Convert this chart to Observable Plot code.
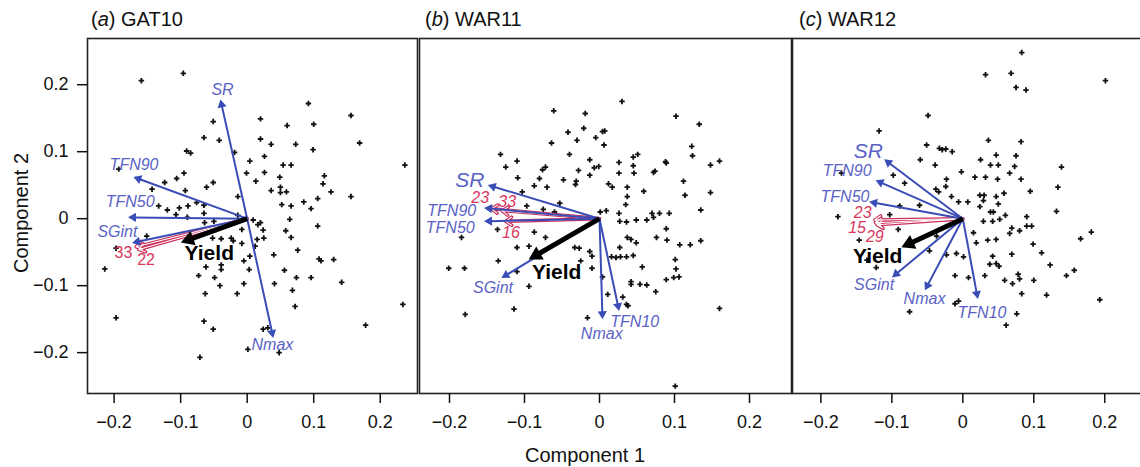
<!DOCTYPE html>
<html><head><meta charset="utf-8">
<script src="https://cdn.jsdelivr.net/npm/d3@7"></script>
<script src="https://cdn.jsdelivr.net/npm/@observablehq/plot@0.6"></script>
<style>
body{margin:0;background:#fff;}
#wrap{position:relative;width:1140px;height:467px;overflow:hidden;font-family:"Liberation Sans",Arial,Helvetica,sans-serif;color:#111;}
.panel{position:absolute;top:0;}
.title{position:absolute;top:7px;font-size:20px;line-height:24px;white-space:nowrap;}
.xlab{position:absolute;left:485px;top:443px;width:200px;text-align:center;font-size:20px;line-height:24px;}
.ylab{position:absolute;left:-79px;top:201px;width:200px;height:24px;text-align:center;font-size:20px;line-height:24px;transform:rotate(-90deg);}
</style></head>
<body>
<div id="wrap"></div>
<script>
// ---------- data ----------
const titles = ["GAT10", "WAR11", "WAR12"];
const letters = ["a", "b", "c"];
const xTicks = [-0.2, -0.1, 0, 0.1, 0.2];
const yTicks = [-0.2, -0.1, 0, 0.1, 0.2];
const xDomain = [-0.24, 0.256];
const yDomain = [-0.261, 0.269];

// genotype scores (Component 1, Component 2)
const ptsA = [[-0.159,0.206],[-0.096,0.217],[0.092,0.172],[0.156,0.154],[-0.051,0.145],[0.020,0.149],[0.060,0.139],[0.100,0.141],[-0.065,0.121],[-0.042,0.117],[0.020,0.119],[0.036,0.111],[0.073,0.111],[0.099,0.103],[0.169,0.113],[-0.091,0.101],[-0.085,0.098],[-0.019,0.099],[0.026,0.093],[0.004,0.086],[0.054,0.080],[0.066,0.080],[0.237,0.080],[-0.193,0.074],[-0.095,0.068],[-0.001,0.068],[0.026,0.069],[0.116,0.064],[0.049,0.062],[-0.106,0.060],[-0.124,0.054],[-0.051,0.054],[0.013,0.056],[0.114,0.052],[0.050,0.047],[-0.061,0.047],[-0.143,0.044],[-0.093,0.042],[0.036,0.042],[0.059,0.040],[0.050,0.039],[0.126,0.040],[-0.014,0.033],[0.156,0.033],[0.106,0.030],[-0.076,0.024],[-0.133,0.019],[-0.120,0.013],[-0.102,0.016],[-0.089,0.019],[-0.065,0.020],[0.052,0.021],[0.066,0.019],[0.085,0.025],[0.096,0.015],[-0.107,0.006],[-0.065,0.008],[-0.014,0.005],
[-0.090,0.002],[-0.064,-0.006],[-0.050,-0.004],[0.009,-0.002],[0.016,-0.009],[0.020,-0.006],[0.024,-0.017],[-0.008,-0.016],[0.064,-0.001],[0.106,-0.011],[0.058,-0.018],[0.066,-0.028],[0.025,-0.029],[0.015,-0.031],[-0.052,-0.029],[-0.039,-0.030],[-0.024,-0.029],[-0.021,-0.033],[-0.008,-0.037],[-0.151,-0.026],[0.012,-0.041],[0.076,-0.047],[-0.197,-0.044],[0.040,-0.054],[0.004,-0.056],[0.108,-0.060],[0.111,-0.063],[0.130,-0.061],[-0.005,-0.063],[-0.039,-0.069],[-0.039,-0.076],[-0.062,-0.072],[0.003,-0.076],[0.056,-0.077],[-0.214,-0.075],[-0.073,-0.085],[-0.049,-0.088],[0.074,-0.088],[0.096,-0.088],[0.142,-0.095],[-0.005,-0.097],[-0.041,-0.100],[0.041,-0.097],[0.068,-0.107],[-0.063,-0.112],[-0.015,-0.112],[0.072,-0.131],[0.234,-0.128],[-0.197,-0.148],[-0.065,-0.153],[0.178,-0.159],[-0.051,-0.165],[0.024,-0.165],[0.031,-0.163],[0.001,-0.195],[0.048,-0.200],[-0.071,-0.207]];

const ptsB = [[0.030,0.175],[-0.061,0.161],[-0.019,0.157],[0.102,0.153],[0.133,0.141],[-0.021,0.135],[-0.042,0.129],[0.004,0.130],[0.007,0.131],[-0.030,0.117],[-0.005,0.121],[-0.064,0.113],[0.006,0.110],[0.123,0.108],[0.124,0.094],[-0.132,0.096],[-0.040,0.096],[0.051,0.096],[0.045,0.092],[-0.013,0.088],[-0.110,0.086],[-0.125,0.077],[-0.072,0.077],[-0.076,0.073],[-0.007,0.076],[-0.001,0.078],[0.026,0.084],[0.045,0.079],[0.088,0.085],[0.089,0.083],[0.148,0.080],[0.160,0.086],[-0.028,0.072],[0.026,0.068],[0.046,0.068],[0.074,0.071],[0.072,0.069],[-0.013,0.065],[-0.109,0.061],[-0.080,0.060],[-0.048,0.058],[-0.031,0.056],[-0.032,0.051],[0.012,0.052],[0.017,0.047],[-0.087,0.049],[-0.070,0.047],[0.037,0.047],[0.112,0.056],[0.059,0.041],[0.114,0.035],[0.148,0.039],[0.037,0.033],[-0.103,0.040],[0.035,0.021],[-0.053,0.023],[0.135,0.013],[-0.097,0.019],[-0.075,0.014],[-0.060,0.010],[0.009,0.012],[0.026,0.008],[0.070,0.008],[0.080,0.008],[0.093,0.008],[0.001,0.010],
[0.027,-0.004],[0.036,-0.005],[0.049,-0.002],[0.063,-0.002],[0.072,0.002],[0.089,-0.015],[0.076,-0.028],[0.090,-0.032],[0.037,-0.028],[0.042,-0.031],[0.049,-0.036],[0.027,-0.043],[0.016,-0.057],[0.022,-0.058],[0.028,-0.057],[0.036,-0.057],[0.045,-0.055],[-0.010,-0.056],[-0.033,-0.043],[-0.027,-0.044],[-0.025,-0.063],[-0.013,-0.049],[-0.072,-0.028],[-0.087,-0.020],[-0.094,-0.041],[-0.110,-0.043],[-0.136,-0.016],[-0.184,-0.028],[-0.201,-0.074],[-0.180,-0.074],[-0.135,-0.063],[-0.110,-0.079],[-0.094,-0.101],[-0.010,-0.074],[0.004,-0.087],[0.011,-0.113],[0.031,-0.117],[0.036,-0.128],[0.038,-0.130],[0.042,-0.094],[0.042,-0.098],[0.054,-0.098],[0.063,-0.099],[0.075,-0.109],[0.057,-0.072],[0.101,-0.061],[0.102,-0.075],[0.089,-0.091],[0.099,-0.088],[0.106,-0.087],[0.107,-0.039],[0.121,-0.039],[0.135,-0.033],[0.160,-0.134],[-0.179,-0.143],[-0.114,-0.135],[-0.016,-0.148],[0.101,-0.250]];

const ptsC = [[0.083,0.248],[0.032,0.215],[0.068,0.217],[0.075,0.196],[0.089,0.192],[0.201,0.206],[-0.049,0.154],[-0.118,0.131],[0.036,0.117],[0.082,0.115],[-0.051,0.110],[-0.033,0.105],[-0.029,0.103],[-0.024,0.104],[-0.015,0.100],[-0.060,0.088],[-0.039,0.080],[0.025,0.088],[0.047,0.095],[0.039,0.080],[0.050,0.080],[0.075,0.094],[0.073,0.078],[0.066,0.068],[0.139,0.077],[-0.002,0.070],[-0.098,0.065],[-0.082,0.053],[-0.171,0.068],[-0.023,0.059],[-0.038,0.044],[-0.034,0.040],[-0.024,0.048],[0.017,0.062],[0.032,0.062],[0.049,0.059],[0.082,0.059],[0.095,0.041],[0.134,0.047],[-0.016,0.033],[-0.006,0.025],[0.024,0.035],[0.030,0.035],[0.029,0.027],[0.047,0.033],[0.058,0.038],[0.050,0.022],[0.007,0.025],[0.024,0.018],[0.039,0.010],[0.043,0.010],[-0.089,0.019],[-0.061,0.020],[-0.103,0.006],[-0.176,0.003],[0.132,0.011],[0.060,0.005],[0.090,0.003],
[0.029,-0.004],[0.042,-0.004],[0.052,-0.001],[0.069,-0.014],[0.080,-0.018],[0.090,-0.011],[0.097,-0.011],[0.015,-0.021],[0.019,-0.036],[0.035,-0.032],[0.047,-0.031],[0.066,-0.022],[0.099,-0.038],[0.111,-0.051],[0.166,-0.030],[0.181,-0.020],[-0.037,-0.026],[-0.047,-0.048],[-0.023,-0.054],[-0.009,-0.052],[0.001,-0.057],[0.042,-0.056],[0.069,-0.053],[0.038,-0.068],[0.047,-0.067],[0.051,-0.071],[0.123,-0.069],[0.157,-0.077],[0.146,-0.085],[-0.011,-0.085],[0.008,-0.088],[0.031,-0.085],[0.059,-0.092],[0.070,-0.097],[0.078,-0.083],[0.080,-0.090],[0.100,-0.092],[0.118,-0.114],[0.083,-0.112],[0.193,-0.121],[-0.075,-0.139],[-0.011,-0.127],[-0.006,-0.123],[0.076,-0.142],[0.061,-0.159],[-0.122,-0.073],[-0.135,-0.062],[-0.146,-0.032],[-0.091,-0.016],[-0.075,-0.004]];

// trait loadings (arrow tip x,y) and label position (lx,ly)
const loadA = [
  {v:"SR",    x:-0.040, y:0.177,  lx:-0.037, ly:0.192, s:16},
  {v:"TFN90", x:-0.170, y:0.062,  lx:-0.170, ly:0.080, s:16},
  {v:"TFN50", x:-0.178, y:0.002,  lx:-0.176, ly:0.025, s:16},
  {v:"SGint", x:-0.172, y:-0.036, lx:-0.195, ly:-0.019, s:16},
  {v:"Nmax",  x:0.039,  y:-0.177, lx:0.038,  ly:-0.189, s:16}];
const loadB = [
  {v:"SR",    x:-0.148, y:0.050,  lx:-0.173, ly:0.058, s:21},
  {v:"TFN90", x:-0.153, y:0.016,  lx:-0.197, ly:0.011, s:16},
  {v:"TFN50", x:-0.153, y:-0.004, lx:-0.199, ly:-0.013, s:16},
  {v:"SGint", x:-0.130, y:-0.088, lx:-0.142, ly:-0.103, s:16},
  {v:"Nmax",  x:0.004,  y:-0.149, lx:0.003,  ly:-0.172, s:16},
  {v:"TFN10", x:0.026,  y:-0.137, lx:0.047,  ly:-0.154, s:16}];
const loadC = [
  {v:"SR",    x:-0.110, y:0.088,  lx:-0.133, ly:0.101, s:21},
  {v:"TFN90", x:-0.122, y:0.057,  lx:-0.163, ly:0.071, s:16},
  {v:"TFN50", x:-0.131, y:0.025,  lx:-0.166, ly:0.033, s:16},
  {v:"SGint", x:-0.099, y:-0.087, lx:-0.125, ly:-0.099, s:16},
  {v:"Nmax",  x:-0.053, y:-0.106, lx:-0.054, ly:-0.119, s:16},
  {v:"TFN10", x:0.021,  y:-0.119, lx:0.027,  ly:-0.141, s:16}];

// genotype vectors (red)
const genoA = [
  {v:"33", x:-0.167, y:-0.042, lx:-0.186, ly:-0.051},
  {v:"22", x:-0.163, y:-0.046, lx:-0.152, ly:-0.061}];
const genoB = [
  {v:"23", x:-0.144, y:0.015,  lx:-0.159, ly:0.031},
  {v:"33", x:-0.130, y:0.012,  lx:-0.123, ly:0.025},
  {v:"16", x:-0.125, y:-0.004, lx:-0.118, ly:-0.021}];
const genoC = [
  {v:"23", x:-0.124, y:-0.002, lx:-0.141, ly:0.009},
  {v:"15", x:-0.123, y:-0.006, lx:-0.149, ly:-0.014},
  {v:"29", x:-0.121, y:-0.009, lx:-0.124, ly:-0.027}];

// yield vector
const yieldA = [{v:"Yield", x:-0.098, y:-0.035, lx:-0.057, ly:-0.051}];
const yieldB = [{v:"Yield", x:-0.093, y:-0.060, lx:-0.057, ly:-0.080}];
const yieldC = [{v:"Yield", x:-0.085, y:-0.042, lx:-0.120, ly:-0.056}];

// ---------- drawing ----------
const FONT = '"Liberation Sans", Arial, Helvetica, sans-serif';
const BLUE = "#3a4db6", BLUE_T = "#5a62c6", RED = "#cc2f5a", RED_T = "#d8365c";
const H = 467, MT = 38, MB = 74;
const fmt = d => d === 0 ? "0" : d3.format(".1f")(d);

// filled arrow-head helpers: the triangle is pulled back along the vector so its apex sits on the tip
function headGeom(kx, ky, back) {
  const dir = d => { const sx = d.x * kx, sy = d.y * ky, l = Math.hypot(sx, sy); return [sx / l, sy / l]; };
  return {
    x: d => d.x - dir(d)[0] * back / kx,
    y: d => d.y - dir(d)[1] * back / ky,
    rotate: d => { const [ux, uy] = dir(d); return Math.atan2(ux, uy) * 180 / Math.PI; }
  };
}

function makePanel({pts, load, geno, yld, left, width, marginLeft, showY, genoItalic}) {
  const kx = (width - marginLeft - 1) / (xDomain[1] - xDomain[0]);
  const ky = (H - MT - MB) / (yDomain[1] - yDomain[0]);
  const bh = headGeom(kx, ky, 4.6);   // blue heads
  const yh = headGeom(kx, ky, 7.5);   // yield head
  const marks = [
    Plot.frame({stroke: "#222", strokeWidth: 1.6}),
    Plot.axisX(xTicks, {tickSize: 10, tickPadding: 12, tickFormat: fmt, label: null, strokeWidth: 1.5, fontSize: 18}),
    Plot.dot(pts, {x: d => d[0], y: d => d[1], symbol: "cross", r: 2.3, fill: "#111", stroke: "none"}),
    Plot.arrow(geno, {x1: 0, y1: 0, x2: "x", y2: "y", stroke: RED, strokeWidth: 3.4, headLength: 3.2, headAngle: 70}),
    Plot.arrow(geno, {x1: 0, y1: 0, x2: "x", y2: "y", stroke: "white", strokeWidth: 1.1, headLength: 9.5, headAngle: 70}),
    Plot.link(load, {x1: 0, y1: 0, x2: bh.x, y2: bh.y, stroke: BLUE, strokeWidth: 2}),
    Plot.dot(load, {x: bh.x, y: bh.y, rotate: bh.rotate, symbol: "triangle", r: 3.4, fill: BLUE, stroke: "none"}),
    Plot.link(yld, {x1: 0, y1: 0, x2: yh.x, y2: yh.y, stroke: "#000", strokeWidth: 5}),
    Plot.dot(yld, {x: yh.x, y: yh.y, rotate: yh.rotate, symbol: "triangle", r: 5.6, fill: "#000", stroke: "none"}),
    Plot.text(load, {x: "lx", y: "ly", text: "v", fill: BLUE_T, fontSize: "s", fontStyle: "italic", fontFamily: FONT}),
    Plot.text(geno, {x: "lx", y: "ly", text: "v", fill: RED_T, fontSize: 16, fontStyle: genoItalic ? "italic" : "normal", fontFamily: FONT}),
    Plot.text(yld, {x: "lx", y: "ly", text: "v", fill: "#000", fontSize: 21, fontWeight: "bold", fontFamily: FONT})
  ];
  if (showY) marks.push(Plot.axisY(yTicks, {tickSize: 10, tickPadding: 9, tickFormat: fmt, label: null, strokeWidth: 1.5, fontSize: 18}));
  const svg = Plot.plot({
    width, height: H,
    marginLeft, marginRight: 1, marginTop: MT, marginBottom: MB,
    x: {domain: xDomain},
    y: {domain: yDomain, axis: showY ? undefined : null},
    style: {fontFamily: FONT, fontSize: "18px", color: "#111", background: "transparent", overflow: "visible"},
    marks
  });
  svg.classList.add("panel");
  svg.style.left = left + "px";
  return svg;
}

const wrap = document.getElementById("wrap");
wrap.appendChild(makePanel({pts: ptsA, load: loadA, geno: genoA, yld: yieldA, left: 0, width: 418, marginLeft: 87, showY: true, genoItalic: false}));
wrap.appendChild(makePanel({pts: ptsB, load: loadB, geno: genoB, yld: yieldB, left: 418, width: 374, marginLeft: 1, showY: false, genoItalic: true}));
wrap.appendChild(makePanel({pts: ptsC, load: loadC, geno: genoC, yld: yieldC, left: 791, width: 354, marginLeft: 1, showY: false, genoItalic: true}));

const titleLeft = [91, 425, 799];
titles.forEach((t, i) => {
  const d = document.createElement("div");
  d.className = "title";
  d.style.left = titleLeft[i] + "px";
  d.innerHTML = `(<i>${letters[i]}</i>) ${t}`;
  wrap.appendChild(d);
});
const xl = document.createElement("div"); xl.className = "xlab"; xl.textContent = "Component 1"; wrap.appendChild(xl);
const yl = document.createElement("div"); yl.className = "ylab"; yl.textContent = "Component 2"; wrap.appendChild(yl);
</script>
</body></html>
